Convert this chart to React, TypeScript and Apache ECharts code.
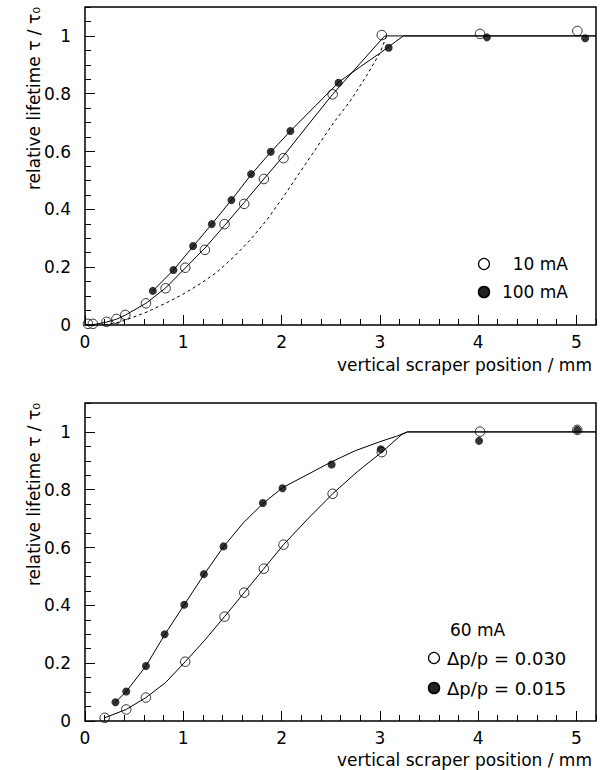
import React, { useEffect, useRef } from "react";
import * as echarts from "echarts";

// ---------- tick labels ----------
const xTickLabels = ["0", "1", "2", "3", "4", "5"];
const yTickLabels = ["0", "0.2", "0.4", "0.6", "0.8", "1"];

// ---------- top panel: measured points ----------
const top10mAPos = [0.03, 0.08, 0.22, 0.32, 0.41, 0.62, 0.82, 1.02, 1.22, 1.42, 1.62, 1.82, 2.02, 2.52, 3.02, 4.02, 5.01];
const top10mATau = [0.004, 0.004, 0.011, 0.021, 0.035, 0.075, 0.127, 0.198, 0.26, 0.349, 0.419, 0.505, 0.577, 0.798, 1.003, 1.007, 1.017];
const top100mAPos = [0.69, 0.9, 1.1, 1.29, 1.49, 1.69, 1.89, 2.09, 2.58, 3.09, 4.09, 5.09];
const top100mATau = [0.118, 0.19, 0.273, 0.349, 0.432, 0.522, 0.599, 0.671, 0.838, 0.959, 0.995, 0.992];

// ---------- top panel: fitted curves ----------
const fit10mAPos = [0.0, 0.1, 0.22, 0.32, 0.41, 0.62, 0.82, 1.02, 1.22, 1.42, 1.62, 1.82, 2.02, 2.27, 2.52, 2.8, 3.05, 5.2];
const fit10mATau = [0.0, 0.002, 0.01, 0.02, 0.034, 0.075, 0.128, 0.197, 0.266, 0.344, 0.424, 0.505, 0.585, 0.692, 0.798, 0.905, 1.0, 1.0];
const fit100mAPos = [0.69, 0.9, 1.1, 1.29, 1.49, 1.69, 1.89, 2.09, 2.35, 2.59, 2.8, 3.0, 3.24, 5.2];
const fit100mATau = [0.118, 0.19, 0.272, 0.349, 0.432, 0.52, 0.598, 0.671, 0.76, 0.842, 0.893, 0.94, 1.0, 1.0];
const theoryPos = [0.2, 0.36, 0.46, 0.63, 0.83, 1.0, 1.17, 1.34, 1.51, 1.68, 1.85, 2.02, 2.19, 2.36, 2.53, 2.7, 2.87, 3.0, 3.07];
const theoryTau = [0.0, 0.011, 0.023, 0.045, 0.077, 0.107, 0.142, 0.182, 0.234, 0.294, 0.363, 0.444, 0.53, 0.615, 0.7, 0.775, 0.865, 0.94, 1.0];

// ---------- bottom panel: measured points ----------
const dp030Pos = [0.2, 0.42, 0.62, 1.02, 1.42, 1.62, 1.82, 2.02, 2.52, 3.02, 4.02, 5.01];
const dp030Tau = [0.011, 0.04, 0.081, 0.205, 0.361, 0.444, 0.527, 0.61, 0.786, 0.93, 1.001, 1.007];
const dp015Pos = [0.31, 0.42, 0.62, 0.81, 1.01, 1.21, 1.41, 1.81, 2.01, 2.51, 3.01, 4.01, 5.01];
const dp015Tau = [0.065, 0.102, 0.19, 0.3, 0.402, 0.508, 0.604, 0.754, 0.805, 0.887, 0.94, 0.969, 1.007];

// ---------- bottom panel: fitted curves ----------
const fit030Pos = [0.2, 0.42, 0.62, 0.82, 1.02, 1.22, 1.42, 1.62, 1.82, 2.02, 2.27, 2.52, 2.77, 3.02, 3.22, 3.28, 5.2];
const fit030Tau = [0.011, 0.04, 0.081, 0.133, 0.205, 0.28, 0.361, 0.444, 0.527, 0.61, 0.7, 0.786, 0.862, 0.93, 0.99, 1.0, 1.0];
const fit015Pos = [0.31, 0.42, 0.62, 0.81, 1.01, 1.21, 1.41, 1.61, 1.81, 2.01, 2.25, 2.5, 2.75, 3.0, 3.17, 3.28, 5.2];
const fit015Tau = [0.065, 0.102, 0.19, 0.298, 0.402, 0.506, 0.603, 0.685, 0.752, 0.807, 0.85, 0.895, 0.935, 0.966, 0.985, 1.0, 1.0];

const FONT = "DejaVu Sans";
const zip = (xs: number[], ys: number[]) => xs.map((x, i) => [x, ys[i]]);

const fmtX = (v: number) => {
  const i = Math.round(v);
  return Math.abs(v - i) < 1e-6 && i >= 0 && i < xTickLabels.length ? xTickLabels[i] : "";
};
const fmtY = (v: number) => {
  const i = Math.round(v / 0.2);
  return Math.abs(v - i * 0.2) < 1e-6 && i >= 0 && i < yTickLabels.length ? yTickLabels[i] : "";
};

function xAxes(gridIndex: number) {
  const base = {
    type: "value",
    gridIndex,
    min: 0,
    max: 5.2,
    position: "bottom",
    axisLine: { show: false },
    splitLine: { show: false },
  };
  return [
    {
      ...base,
      interval: 1,
      axisTick: { show: true, inside: true, length: 10, lineStyle: { color: "#000", width: 1 } },
      axisLabel: {
        show: true,
        margin: 8,
        color: "#000",
        fontSize: 17,
        fontFamily: FONT,
        showMaxLabel: false,
        formatter: fmtX,
      },
    },
    {
      ...base,
      interval: 0.2,
      axisTick: { show: true, inside: true, length: 6, lineStyle: { color: "#000", width: 1 } },
      axisLabel: { show: false },
    },
  ];
}

function yAxes(gridIndex: number) {
  const base = {
    type: "value",
    gridIndex,
    min: 0,
    max: 1.1,
    position: "left",
    axisLine: { show: false },
    splitLine: { show: false },
  };
  return [
    {
      ...base,
      interval: 0.2,
      axisTick: { show: true, inside: true, length: 10, lineStyle: { color: "#000", width: 1 } },
      axisLabel: {
        show: true,
        margin: 14,
        color: "#000",
        fontSize: 17,
        fontFamily: FONT,
        showMaxLabel: false,
        formatter: fmtY,
      },
    },
    {
      ...base,
      interval: 0.05,
      axisTick: { show: true, inside: true, length: 6, lineStyle: { color: "#000", width: 1 } },
      axisLabel: { show: false },
    },
  ];
}

function curve(name: string, xs: number[], ys: number[], axis: number, dashed = false) {
  return {
    name,
    type: "line",
    xAxisIndex: axis,
    yAxisIndex: axis,
    data: zip(xs, ys),
    showSymbol: false,
    symbol: "none",
    silent: true,
    lineStyle: { color: "#000", width: 1, type: dashed ? [3, 3] : "solid" },
    z: 2,
  };
}

function points(name: string, xs: number[], ys: number[], axis: number, filled: boolean) {
  return {
    name,
    type: "scatter",
    xAxisIndex: axis,
    yAxisIndex: axis,
    data: zip(xs, ys),
    symbol: "circle",
    symbolSize: filled ? 8 : 9.5,
    silent: true,
    itemStyle: filled
      ? { color: "#000", borderColor: "#000", borderWidth: 0 }
      : { color: "rgba(0,0,0,0)", borderColor: "#000", borderWidth: 1 },
    z: filled ? 4 : 3,
  };
}

const label = (x: number, y: number, text: string, align: string, size = 17) => ({
  type: "text",
  x,
  y,
  style: { text, fill: "#000", font: `${size}px "${FONT}"`, align, verticalAlign: "middle" },
});

export default function App() {
  const ref = useRef<HTMLDivElement>(null);

  useEffect(() => {
    if (!ref.current) return;
    const chart = echarts.init(ref.current, undefined, { renderer: "svg" });
    const option = {
      animation: false,
      backgroundColor: "#fff",
      grid: [
        { left: 85, top: 7, width: 511, height: 318, show: true, borderColor: "#000", borderWidth: 1.5, backgroundColor: "transparent" },
        { left: 85, top: 403, width: 511, height: 318, show: true, borderColor: "#000", borderWidth: 1.5, backgroundColor: "transparent" },
      ],
      xAxis: [...xAxes(0), ...xAxes(1)],
      yAxis: [...yAxes(0), ...yAxes(1)],
      series: [
        curve("theory", theoryPos, theoryTau, 0, true),
        curve("fit 10 mA", fit10mAPos, fit10mATau, 0),
        curve("fit 100 mA", fit100mAPos, fit100mATau, 0),
        points("10 mA", top10mAPos, top10mATau, 0, false),
        points("100 mA", top100mAPos, top100mATau, 0, true),
        curve("fit Δp/p = 0.030", fit030Pos, fit030Tau, 2),
        curve("fit Δp/p = 0.015", fit015Pos, fit015Tau, 2),
        points("Δp/p = 0.030", dp030Pos, dp030Tau, 2, false),
        points("Δp/p = 0.015", dp015Pos, dp015Tau, 2, true),
      ],
      graphic: [
        // axis titles
        { ...label(34, 7, "relative lifetime τ / τ₀", "right"), rotation: Math.PI / 2 },
        { ...label(34, 403, "relative lifetime τ / τ₀", "right"), rotation: Math.PI / 2 },
        label(592, 365, "vertical scraper position / mm", "right"),
        label(592, 760, "vertical scraper position / mm", "right"),
        // top legend
        { type: "circle", shape: { cx: 484, cy: 264, r: 5.5 }, style: { fill: "none", stroke: "#000", lineWidth: 1.2 } },
        { type: "circle", shape: { cx: 484, cy: 292, r: 5.5 }, style: { fill: "#222", stroke: "#000", lineWidth: 1.5 } },
        label(568, 264, "10 mA", "right"),
        label(568, 292, "100 mA", "right"),
        // bottom legend
        label(450, 630, "60 mA", "left"),
        { type: "circle", shape: { cx: 434, cy: 658, r: 5.5 }, style: { fill: "none", stroke: "#000", lineWidth: 1.2 } },
        { type: "circle", shape: { cx: 434, cy: 688, r: 5.5 }, style: { fill: "#222", stroke: "#000", lineWidth: 1.5 } },
        label(447, 658, "Δp/p = 0.030", "left", 18),
        label(447, 688, "Δp/p = 0.015", "left", 18),
      ],
    };
    chart.setOption(option as any);
    return () => chart.dispose();
  }, []);

  return (
    <div
      ref={ref}
      style={{ position: "fixed", left: 0, top: 0, width: 604, height: 770, background: "#fff" }}
    />
  );
}
